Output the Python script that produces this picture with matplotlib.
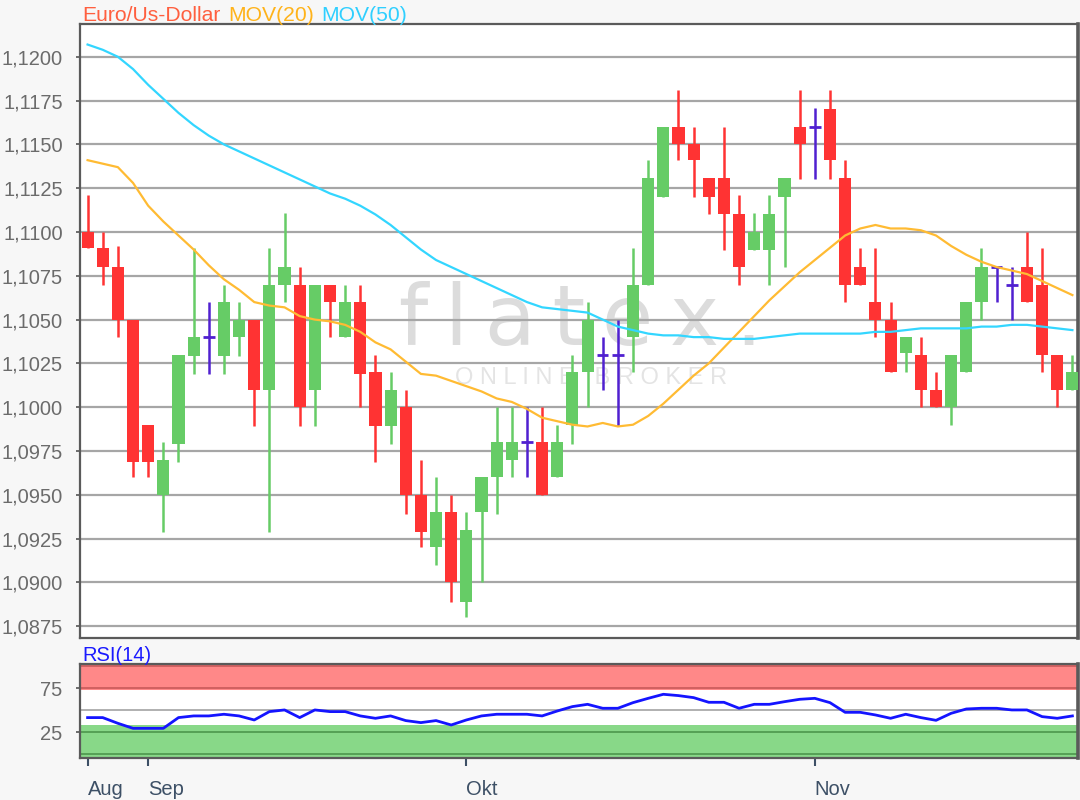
import matplotlib
matplotlib.use('Agg')
import matplotlib.pyplot as plt

# Euro/US-Dollar daily candles
opens = [1.1100, 1.1091, 1.1080, 1.1050, 1.0990, 1.0950, 1.0979, 1.1029, 1.1040, 1.1029,
         1.1040, 1.1050, 1.1010, 1.1070, 1.1070, 1.1010, 1.1070, 1.1040, 1.1060, 1.1020,
         1.0989, 1.1000, 1.0950, 1.0920, 1.0940, 1.0889, 1.0940, 1.0960, 1.0970, 1.0980,
         1.0980, 1.0960, 1.0990, 1.1020, 1.1030, 1.1030, 1.1040, 1.1070, 1.1120, 1.1160,
         1.1150, 1.1131, 1.1131, 1.1110, 1.1090, 1.1090, 1.1120, 1.1160, 1.1160, 1.1170,
         1.1131, 1.1080, 1.1060, 1.1050, 1.1031, 1.1030, 1.1010, 1.1000, 1.1020, 1.1060,
         1.1080, 1.1070, 1.1080, 1.1070, 1.1030, 1.1010]
highs = [1.1121, 1.1100, 1.1092, 1.1050, 1.0990, 1.0980, 1.1030, 1.1091, 1.1060, 1.1070,
         1.1060, 1.1050, 1.1091, 1.1111, 1.1080, 1.1070, 1.1070, 1.1070, 1.1070, 1.1030,
         1.1020, 1.1010, 1.0970, 1.0960, 1.0950, 1.0940, 1.0960, 1.1000, 1.1000, 1.1000,
         1.1000, 1.0990, 1.1030, 1.1060, 1.1040, 1.1050, 1.1091, 1.1141, 1.1160, 1.1181,
         1.1160, 1.1131, 1.1160, 1.1121, 1.1111, 1.1121, 1.1131, 1.1181, 1.1171, 1.1181,
         1.1141, 1.1091, 1.1091, 1.1060, 1.1040, 1.1040, 1.1020, 1.1030, 1.1060, 1.1091,
         1.1080, 1.1080, 1.1100, 1.1091, 1.1030, 1.1030]
lows = [1.1091, 1.1070, 1.1040, 1.0960, 1.0960, 1.0929, 1.0969, 1.1019, 1.1019, 1.1019,
        1.1029, 1.0989, 1.0929, 1.1060, 1.0989, 1.0989, 1.1040, 1.1040, 1.1000, 1.0969,
        1.0979, 1.0939, 1.0920, 1.0910, 1.0889, 1.0880, 1.0900, 1.0939, 1.0960, 1.0960,
        1.0950, 1.0960, 1.0979, 1.1000, 1.1010, 1.0989, 1.1020, 1.1070, 1.1120, 1.1141,
        1.1120, 1.1110, 1.1090, 1.1070, 1.1090, 1.1070, 1.1080, 1.1130, 1.1130, 1.1130,
        1.1060, 1.1070, 1.1040, 1.1020, 1.1020, 1.1000, 1.1000, 1.0990, 1.1020, 1.1050,
        1.1060, 1.1050, 1.1060, 1.1020, 1.1000, 1.1010]
closes = [1.1091, 1.1080, 1.1050, 1.0969, 1.0969, 1.0970, 1.1030, 1.1040, 1.1040, 1.1060,
          1.1050, 1.1010, 1.1070, 1.1080, 1.1000, 1.1070, 1.1060, 1.1060, 1.1019, 1.0989,
          1.1010, 1.0950, 1.0929, 1.0940, 1.0900, 1.0930, 1.0960, 1.0980, 1.0980, 1.0980,
          1.0950, 1.0980, 1.1020, 1.1050, 1.1030, 1.1030, 1.1070, 1.1131, 1.1160, 1.1150,
          1.1141, 1.1120, 1.1110, 1.1080, 1.1100, 1.1110, 1.1131, 1.1150, 1.1160, 1.1141,
          1.1070, 1.1070, 1.1050, 1.1020, 1.1040, 1.1010, 1.1000, 1.1030, 1.1060, 1.1080,
          1.1080, 1.1070, 1.1060, 1.1030, 1.1010, 1.1020]

# moving averages
mov20 = [1.1141, 1.1139, 1.1137, 1.1128, 1.1115, 1.1106, 1.1098, 1.1090, 1.1081, 1.1073,
         1.1067, 1.1060, 1.1058, 1.1057, 1.1052, 1.1050, 1.1049, 1.1047, 1.1043, 1.1037,
         1.1033, 1.1026, 1.1019, 1.1018, 1.1015, 1.1012, 1.1009, 1.1005, 1.1003, 1.0999,
         1.0994, 1.0992, 1.0990, 1.0989, 1.0991, 1.0989, 1.0990, 1.0995, 1.1002, 1.1010,
         1.1018, 1.1025, 1.1034, 1.1043, 1.1052, 1.1061, 1.1069, 1.1077, 1.1084, 1.1091,
         1.1098, 1.1102, 1.1104, 1.1102, 1.1102, 1.1101, 1.1098, 1.1092, 1.1087, 1.1083,
         1.1080, 1.1078, 1.1076, 1.1072, 1.1068, 1.1064]
mov50 = [1.1207, 1.1204, 1.1200, 1.1193, 1.1184, 1.1176, 1.1168, 1.1161, 1.1155, 1.1150,
         1.1146, 1.1142, 1.1138, 1.1134, 1.1130, 1.1126, 1.1122, 1.1119, 1.1115, 1.1110,
         1.1104, 1.1097, 1.1090, 1.1084, 1.1080, 1.1076, 1.1072, 1.1068, 1.1064, 1.1060,
         1.1057, 1.1056, 1.1055, 1.1054, 1.1050, 1.1046, 1.1044, 1.1042, 1.1041, 1.1041,
         1.1040, 1.1040, 1.1039, 1.1039, 1.1039, 1.1040, 1.1041, 1.1042, 1.1042, 1.1042,
         1.1042, 1.1042, 1.1043, 1.1043, 1.1044, 1.1045, 1.1045, 1.1045, 1.1045, 1.1046,
         1.1046, 1.1047, 1.1047, 1.1046, 1.1045, 1.1044]

# RSI(14)
rsi14 = [41.7, 41.7, 35.2, 29.5, 29.5, 29.5, 41.7, 43.6, 43.6, 45.5,
         43.6, 39.0, 48.5, 50.4, 41.7, 50.4, 48.5, 48.5, 43.6, 40.9,
         43.6, 38.3, 36.0, 38.3, 33.3, 39.0, 43.6, 45.5, 45.5, 45.5,
         43.6, 49.2, 54.2, 56.8, 52.3, 52.3, 58.7, 63.6, 68.2, 66.7,
         64.4, 59.1, 59.1, 52.3, 56.8, 56.8, 59.8, 62.5, 63.6, 58.7,
         47.7, 47.7, 44.7, 40.9, 45.5, 41.7, 38.6, 46.6, 51.5, 52.3,
         52.3, 50.4, 50.4, 42.8, 40.9, 43.6]

month_labels = ['Aug', 'Sep', 'Okt', 'Nov']
month_pos = [0, 4, 25, 48]
price_ticks = [1.0875 + 0.0025 * k for k in range(14)]
rsi_ticks = [25, 75]

red = '#ff3333'
green = '#66cc66'
doji = '#5020d0'

plt.rcParams['font.family'] = ['Liberation Sans', 'DejaVu Sans']
plt.rcParams['font.size'] = 14.5

W, H = 1080, 800
fig = plt.figure(figsize=(10.8, 8), dpi=100, facecolor='#f7f7f7')
ax = fig.add_axes([80 / W, 1 - 638.3 / H, (1077.7 - 80) / W, (638.3 - 24) / H])
ax2 = fig.add_axes([80 / W, 1 - 757.7 / H, (1077.7 - 80) / W, (757.7 - 664.3) / H])

idx = list(range(len(opens)))

# watermark
ax.text(0.502, 0.478, 'f\u2009l\u2009a\u2009t\u2009e\u2009x\u2009.', transform=ax.transAxes,
        ha='center', va='baseline', fontsize=60, color='#dcdcdc',
        family='DejaVu Sans', zorder=1)
ax.text(0.512, 0.424, 'O N L I N E   B R O K E R', transform=ax.transAxes,
        ha='center', va='center', fontsize=17, color='#e4e4e4', zorder=1)

for y in price_ticks:
    ax.axhline(y, color='#a6a6a6', lw=1.6, zorder=2)

for i, o, h, l, c in zip(idx, opens, highs, lows, closes):
    if abs(c - o) < 1e-6:
        col = doji
    elif c > o:
        col = green
    else:
        col = red
    ax.vlines(i, l, h, color=col, lw=1.8, zorder=3)
    if col == doji:
        ax.hlines(o, i - 0.38, i + 0.38, color=col, lw=2, zorder=3)
    else:
        ax.bar(i, c - o, bottom=o, width=0.8, color=col, zorder=3)

ax.plot(idx, mov20, color='#ffbb33', lw=1.6, zorder=4)
ax.plot(idx, mov50, color='#33d6ff', lw=1.6, zorder=4)

ax.set_xlim(-0.5, 65.35)
ax.set_ylim(1.086809, 1.121872)
ax.set_yticks(price_ticks)
ax.set_yticklabels([f'{v:.4f}'.replace('.', ',') for v in price_ticks])
ax.set_xticks([])
ax.tick_params(axis='y', length=3, width=1.2, color='#555555', pad=9.5, labelcolor='#6b6b6b')
for s in ax.spines.values():
    s.set_color('#5a5a5a')
    s.set_linewidth(1.6)
ax.spines['right'].set_linewidth(2.6)

# RSI panel
ax2.axhspan(73, 110, color='#ff8888', lw=0, zorder=1)
ax2.axhspan(-10, 33, color='#88d888', lw=0, zorder=1)
ax2.axhline(100, color='#d06060', lw=1.4, zorder=2)
ax2.axhline(75, color='#d06060', lw=1.4, zorder=2)
ax2.axhline(50, color='#b0b0b0', lw=1.4, zorder=2)
ax2.axhline(25, color='#55a055', lw=1.4, zorder=2)
ax2.axhline(0, color='#55a055', lw=1.4, zorder=2)
ax2.plot(idx, rsi14, color='#1414ff', lw=2, zorder=3)
ax2.set_xlim(-0.5, 65.35)
ax2.set_ylim(-3.9, 102.3)
ax2.set_yticks(rsi_ticks)
ax2.set_yticklabels([str(v) for v in rsi_ticks])
ax2.tick_params(axis='y', length=3, width=1.2, color='#555555', pad=9.5, labelcolor='#6b6b6b')
ax2.set_xticks(month_pos)
ax2.set_xticklabels(month_labels, ha='left')
ax2.tick_params(axis='x', length=6, width=1.5, color='#3d5066', pad=10, labelcolor='#3d5066')
for s in ax2.spines.values():
    s.set_color('#5a5a5a')
    s.set_linewidth(1.6)
ax2.spines['right'].set_linewidth(2.6)

fig.text(82 / W, 1 - 661 / H, 'RSI(14)', color='#1a1aff', va='baseline')

# title in three colours
renderer = fig.canvas.get_renderer()
x0 = 82.7 / W
for txt, col in [('Euro/Us-Dollar', '#ff5f3f'), ('MOV(20)', '#ffb31a'), ('MOV(50)', '#2fcfff')]:
    t = fig.text(x0, 1 - 20.7 / H, txt, color=col, va='baseline', fontsize=15.2)
    bb = t.get_window_extent(renderer)
    x0 = (bb.x1 + 7) / W

fig.savefig('out.png', dpi=100, facecolor=fig.get_facecolor())
